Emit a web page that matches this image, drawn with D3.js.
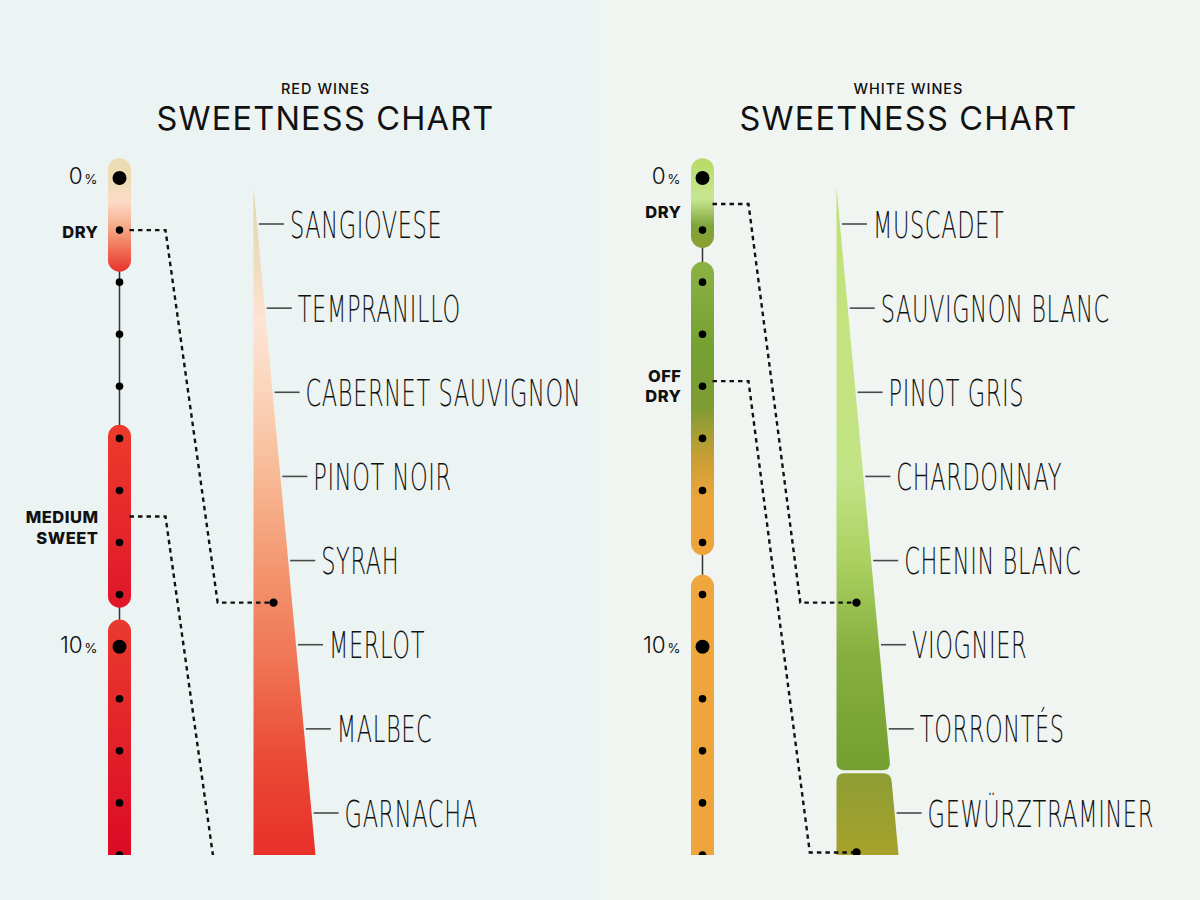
<!DOCTYPE html>
<html><head><meta charset="utf-8">
<script src="https://cdn.jsdelivr.net/npm/d3@7"></script>
<style>
html,body{margin:0;padding:0;background:#ecf3f3;}
svg{display:block;}
</style></head>
<body>
<svg id="chart" width="1200" height="900"></svg>
<script>
// ---------- DATA ----------
const panelSubtitles = ["RED WINES", "WHITE WINES"];
const chartTitle = "SWEETNESS CHART";
const redWines = ["SANGIOVESE","TEMPRANILLO","CABERNET SAUVIGNON","PINOT NOIR","SYRAH","MERLOT","MALBEC","GARNACHA"];
const whiteWines = ["MUSCADET","SAUVIGNON BLANC","PINOT GRIS","CHARDONNAY","CHENIN BLANC","VIOGNIER","TORRONTÉS","GEWÜRZTRAMINER"];
const scaleLevels = [0,1,2,3,4,5,6,7,8,9,10,11,12,13];
const majorLevels = [0, 9];
const percentLabels = ["0", "10"];
// sweetness level names (position in level units)
const redLevelNames = [["DRY"], ["MEDIUM","SWEET"]];
const redLevelPos = [1.04, 6.71];
const whiteLevelNames = [["DRY"], ["OFF","DRY"]];
const whiteLevelPos = [0.66, 4.0];
// links from scale level to wine position
const redLinkFrom = [1, 6.5];
const redLinkTo = [4.5, 8.6];
const whiteLinkFrom = [0.5, 3.9];
const whiteLinkTo = [4.5, 7.47];
// pill segments of the scale (level units)
const redPills = [[-0.38, 1.8], [4.74, 8.25], [8.48, 13.4]];
const whitePills = [[-0.38, 1.34], [1.61, 7.24], [7.62, 13.4]];
// wedge extent in wine-position units, white wedge split
const wedgeExtent = [-0.44, 7.6];
const whiteWedgeSplit = 6.51;

// ---------- STYLE ----------
const redStyle = {
  pillStops: [
    [[0,"#ecdcb0"],[0.22,"#efdcb8"],[0.38,"#fcdcc8"],[0.65,"#f4a07c"],[1,"#e8322a"]],
    [[0,"#ec3b2c"],[1,"#e0162b"]],
    [[0,"#e93a2f"],[1,"#dc0a24"]]
  ],
  wedgeStops: [[[0,"#e6d3a2"],[0.1,"#efdabb"],[0.2,"#fde4d3"],[0.3,"#fbd5bd"],[0.42,"#f8bc98"],[0.57,"#f39670"],[0.72,"#ef7253"],[0.86,"#ea4935"],[1,"#e8302a"]]],
  slope: 0.14
};
const whiteStyle = {
  pillStops: [
    [[0,"#b7da66"],[0.45,"#c9e792"],[0.75,"#7fa43a"],[1,"#8b9f30"]],
    [[0,"#8cb244"],[0.3,"#74a032"],[0.5,"#7f9c33"],[0.66,"#c69f34"],[0.8,"#eaa43a"],[1,"#eea53c"]],
    [[0,"#efa73d"],[1,"#eea63c"]]
  ],
  wedgeStops: [
    [[0,"#bfe174"],[0.3,"#c4e482"],[0.5,"#c2e385"],[0.65,"#a8cf5e"],[0.8,"#86af40"],[1,"#73a031"]],
    [[0,"#8d9e34"],[1,"#a7a12a"]]
  ],
  slope: 0.13
};

const svg = d3.select("#chart");
const defs = svg.append("defs");
defs.append("clipPath").attr("id","clipAll").append("rect")
  .attr("x",0).attr("y",0).attr("width",1200).attr("height",855);

svg.append("rect").attr("x",0).attr("y",0).attr("width",600).attr("height",900).attr("fill","#ecf3f3");
svg.append("rect").attr("x",600).attr("y",0).attr("width",600).attr("height",900).attr("fill","#f0f5f2");

const yLevel = d3.scaleLinear().domain([0, 13]).range([178, 855]);
const yWine = d3.scaleLinear().domain([0, 7]).range([224, 813]);
const wedgeTopY = yWine(wedgeExtent[0]);
const wedgeWidth = d3.scaleLinear().domain([wedgeTopY, 855]).range([0, 62]);

let gradId = 0;
function makeGrad(stops, y1, y2) {
  const id = "g" + (gradId++);
  const g = defs.append("linearGradient").attr("id", id)
    .attr("gradientUnits","userSpaceOnUse")
    .attr("x1",0).attr("x2",0).attr("y1",y1).attr("y2",y2);
  g.selectAll("stop").data(stops).join("stop")
    .attr("offset", d => d[0]).attr("stop-color", d => d[1]);
  return "url(#" + id + ")";
}

function drawPanel(dx, subtitle, wines, levelNames, levelPos, linkFrom, linkTo, pills, style, split) {
  const g = svg.append("g").attr("transform", `translate(${dx},0)`);
  const cx = 119.5, pw = 23, wedgeX = 253.5, panelCx = 325.5;

  g.append("text").text(subtitle).attr("x", panelCx).attr("y", 94)
    .attr("text-anchor","middle").attr("font-family","Inter").attr("font-weight",500)
    .attr("font-size",14.5).attr("letter-spacing",1).attr("fill","#111");
  g.append("text").text(chartTitle).attr("x", panelCx).attr("y", 130)
    .attr("text-anchor","middle").attr("font-family","Inter").attr("font-weight",400)
    .attr("font-size",32.5).attr("letter-spacing",1.2).attr("fill","#111");

  const c = g.append("g").attr("clip-path","url(#clipAll)");

  // thin scale line
  c.append("line").attr("x1",cx).attr("x2",cx)
    .attr("y1",yLevel(0)).attr("y2",yLevel(13.4))
    .attr("stroke","#333").attr("stroke-width",1.5);

  // pills
  c.selectAll("rect.pill").data(pills).join("rect").attr("class","pill")
    .attr("x", cx - pw/2).attr("width", pw)
    .attr("y", d => yLevel(d[0]))
    .attr("height", d => yLevel(d[1]) - yLevel(d[0]))
    .attr("rx", pw/2)
    .attr("fill", (d,i) => makeGrad(style.pillStops[i], yLevel(d[0]), Math.min(855, yLevel(d[1]))));

  // dots
  c.selectAll("circle.lvl").data(scaleLevels).join("circle").attr("class","lvl")
    .attr("cx", cx).attr("cy", d => yLevel(d))
    .attr("r", d => majorLevels.includes(d) ? 7 : 3.8)
    .attr("fill","#000");

  // percent labels
  majorLevels.forEach((lv, i) => {
    const t = g.append("text").attr("x", cx - 22).attr("y", yLevel(lv)).attr("dy","0.38em")
      .attr("text-anchor","end").attr("font-family","Inter").attr("fill","#111");
    t.append("tspan").text(percentLabels[i]).attr("font-size",22.5).attr("font-weight",300);
    t.append("tspan").text("%").attr("font-size",13.5).attr("font-weight",400).attr("dx",1.5);
  });

  // level names
  levelNames.forEach((lines, i) => {
    const yc = yLevel(levelPos[i]);
    const lh = 20.5;
    lines.forEach((ln, j) => {
      g.append("text").text(ln).attr("x", cx - 21)
        .attr("y", yc + (j - (lines.length - 1) / 2) * lh).attr("dy","0.36em")
        .attr("text-anchor","end").attr("font-family","Inter").attr("font-weight",800)
        .attr("font-size",16.5).attr("letter-spacing",0.5).attr("fill","#111");
    });
  });

  // wedge
  const botY = yWine(wedgeExtent[1]);
  const edge = y => wedgeX + wedgeWidth(y);
  if (split == null) {
    const pts = [[wedgeX, wedgeTopY], [edge(botY), botY], [wedgeX, botY]];
    c.append("path").attr("d", "M" + pts.map(p => p.join(",")).join("L") + "Z")
      .attr("fill", makeGrad(style.wedgeStops[0], wedgeTopY, 855));
  } else {
    const sy = yWine(split), r = 8, gap = 3;
    const y1 = sy - gap/2, y2 = sy + gap/2;
    const p1 = d3.path();
    p1.moveTo(wedgeX, wedgeTopY);
    p1.lineTo(edge(y1 - r), y1 - r);
    p1.quadraticCurveTo(edge(y1), y1, edge(y1) - r, y1);
    p1.lineTo(wedgeX + r, y1);
    p1.quadraticCurveTo(wedgeX, y1, wedgeX, y1 - r);
    p1.closePath();
    c.append("path").attr("d", p1.toString())
      .attr("fill", makeGrad(style.wedgeStops[0], wedgeTopY, y1));
    const p2 = d3.path();
    p2.moveTo(wedgeX, y2 + r);
    p2.quadraticCurveTo(wedgeX, y2, wedgeX + r, y2);
    p2.lineTo(edge(y2) - r, y2);
    p2.quadraticCurveTo(edge(y2), y2, edge(y2 + r), y2 + r);
    p2.lineTo(edge(botY), botY);
    p2.lineTo(wedgeX, botY);
    p2.closePath();
    c.append("path").attr("d", p2.toString())
      .attr("fill", makeGrad(style.wedgeStops[1], y2, 855));
  }

  // wine labels
  wines.forEach((w, i) => {
    const y = yWine(i);
    const ex = edge(y);
    c.append("line").attr("x1", ex + 2).attr("x2", ex + 27).attr("y1", y).attr("y2", y)
      .attr("stroke","#4a4a4a").attr("stroke-width",1.6);
    c.append("text").text(w)
      .attr("transform", `translate(${ex + 33},${y}) scale(0.6,1)`)
      .attr("dy","0.36em").attr("font-family","DejaVu Sans").attr("font-weight",200)
      .attr("font-size",37.5).attr("letter-spacing",1).attr("fill","#111");
  });

  // links
  const elbowX = cx + 46, dotX = wedgeX + 20;
  linkFrom.forEach((lf, i) => {
    const y0 = yLevel(lf), y1 = yWine(linkTo[i]);
    const endX = elbowX + style.slope * (y1 - y0);
    c.append("path").attr("d", `M${cx + 10},${y0}H${elbowX}L${endX},${y1}H${dotX}`)
      .attr("fill","none").attr("stroke","#111").attr("stroke-width",2.4)
      .attr("stroke-dasharray","4.5,4");
    c.append("circle").attr("cx", dotX).attr("cy", y1).attr("r",4.2).attr("fill","#000");
  });
}

drawPanel(0, panelSubtitles[0], redWines, redLevelNames, redLevelPos, redLinkFrom, redLinkTo, redPills, redStyle, null);
drawPanel(583, panelSubtitles[1], whiteWines, whiteLevelNames, whiteLevelPos, whiteLinkFrom, whiteLinkTo, whitePills, whiteStyle, whiteWedgeSplit);
</script>
</body></html>
